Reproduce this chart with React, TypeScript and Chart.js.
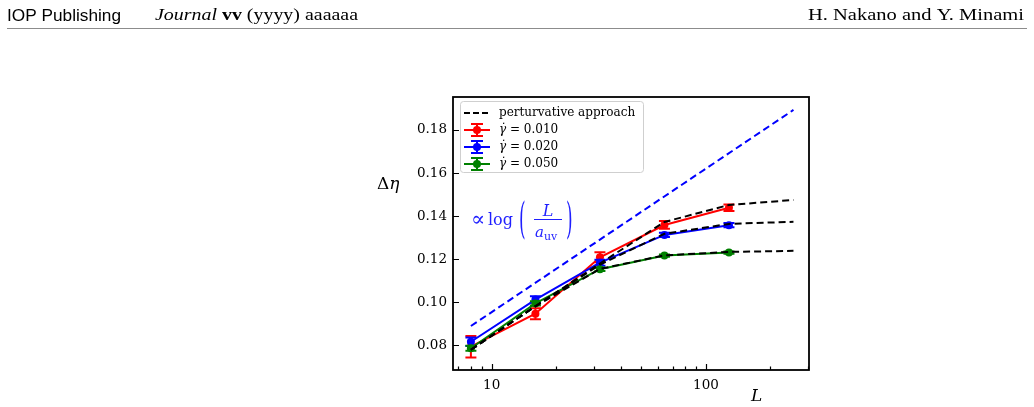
import React, { useEffect, useRef } from 'react';
import { Chart, registerables } from 'chart.js';

Chart.register(...registerables);

// System sizes L and measured Δη for three shear rates
const sizes = [8, 16, 32, 64, 128];
const rate010 = [0.0794, 0.0947, 0.1209, 0.1359, 0.1439];
const err010 = [0.0050, 0.0026, 0.0023, 0.0018, 0.0015];
const rate020 = [0.0817, 0.1013, 0.1184, 0.1313, 0.1358];
const err020 = [0.0020, 0.0015, 0.0014, 0.0010, 0.0010];
const rate050 = [0.0787, 0.0995, 0.1154, 0.1217, 0.1231];
const err050 = [0.0012, 0.0010, 0.0008, 0.0005, 0.0005];

// Perturbative predictions
const pertSizes = [8, 16, 32, 64, 128, 256];
const pert010 = [0.0780, 0.0982, 0.1180, 0.1373, 0.1452, 0.1475];
const pert020 = [0.0780, 0.0982, 0.1175, 0.1318, 0.1364, 0.1374];
const pert050 = [0.0780, 0.0982, 0.1155, 0.1218, 0.1234, 0.1239];

// Logarithmic growth guide
const guideSizes = [8, 256];
const guideValues = [0.0890, 0.1893];

const yTicks = [0.08, 0.10, 0.12, 0.14, 0.16, 0.18];
const xMajorTicks = [10, 100];
const xMinorTicks = [7, 8, 9, 20, 30, 40, 50, 60, 70, 80, 90, 200, 300];
const rateLabels = ['0.010', '0.020', '0.050'];
const rateColors = ['#ff0000', '#0000ff', '#008000'];

const SERIF = '"DejaVu Serif", serif';
const TIMES = '"Liberation Serif", serif';
const GUIDE_BLUE = '#1f1fff';

const pts = (xs: number[], ys: number[]) => xs.map((x, i) => ({ x, y: ys[i] }));

function fitText(ctx: CanvasRenderingContext2D, text: string, x: number, y: number, sx: number) {
  ctx.save();
  ctx.translate(x, y);
  ctx.scale(sx, 1);
  ctx.fillText(text, 0, 0);
  ctx.restore();
  return ctx.measureText(text).width * sx;
}

function stretchedParen(ctx: CanvasRenderingContext2D, ch: string, x: number, top: number, bottom: number) {
  ctx.save();
  ctx.font = `17px ${SERIF}`;
  const m = ctx.measureText(ch);
  const asc = m.actualBoundingBoxAscent;
  const desc = m.actualBoundingBoxDescent;
  const s = (bottom - top) / (asc + desc);
  ctx.translate(x, top + asc * s);
  ctx.scale(1, s);
  ctx.textBaseline = 'alphabetic';
  ctx.fillText(ch, 0, 0);
  ctx.restore();
}

function drawHeader(ctx: CanvasRenderingContext2D) {
  ctx.save();
  ctx.fillStyle = '#000';
  ctx.textBaseline = 'alphabetic';
  ctx.textAlign = 'left';
  ctx.font = `16px "Liberation Sans", sans-serif`;
  const w1 = ctx.measureText('IOP Publishing').width;
  fitText(ctx, 'IOP Publishing', 7, 20.7, 114 / w1);

  const parts: [string, string][] = [
    [`italic 17.5px ${TIMES}`, 'Journal '],
    [`bold 17.5px ${TIMES}`, 'vv'],
    [`17.5px ${TIMES}`, ' (yyyy) aaaaaa'],
  ];
  let total = 0;
  parts.forEach(([f, t]) => { ctx.font = f; total += ctx.measureText(t).width; });
  const sx = 203 / total;
  let x = 155;
  parts.forEach(([f, t]) => { ctx.font = f; x += fitText(ctx, t, x, 19.5, sx); });

  ctx.font = `17.5px ${TIMES}`;
  const name = 'H. Nakano and Y. Minami';
  const wn = ctx.measureText(name).width;
  fitText(ctx, name, 808, 19.5, 216 / wn);

  ctx.strokeStyle = '#8c8c8c';
  ctx.lineWidth = 1;
  ctx.beginPath();
  ctx.moveTo(7, 28.5);
  ctx.lineTo(1027, 28.5);
  ctx.stroke();
  ctx.restore();
}

function drawLegend(ctx: CanvasRenderingContext2D) {
  const x0 = 460.5, y0 = 101.5, w = 183, h = 71;
  ctx.save();
  ctx.beginPath();
  ctx.roundRect(x0, y0, w, h, 3);
  ctx.fillStyle = 'rgba(255,255,255,0.85)';
  ctx.fill();
  ctx.strokeStyle = '#cfcfcf';
  ctx.lineWidth = 1;
  ctx.stroke();

  const rows = [113, 130, 147, 164];
  const hx0 = 464, hx1 = 490, hc = 477;

  ctx.strokeStyle = '#000';
  ctx.lineWidth = 2;
  ctx.setLineDash([6, 3]);
  ctx.beginPath();
  ctx.moveTo(hx0, rows[0]);
  ctx.lineTo(hx1, rows[0]);
  ctx.stroke();
  ctx.setLineDash([]);

  ctx.fillStyle = '#000';
  ctx.textBaseline = 'middle';
  ctx.font = `12px ${SERIF}`;
  ctx.fillText('perturvative approach', 499, rows[0]);

  rateLabels.forEach((lab, i) => {
    const y = rows[i + 1];
    const c = rateColors[i];
    ctx.strokeStyle = c;
    ctx.fillStyle = c;
    ctx.lineWidth = 2;
    ctx.beginPath();
    ctx.moveTo(hx0, y); ctx.lineTo(hx1, y);
    ctx.moveTo(hc, y - 6); ctx.lineTo(hc, y + 6);
    ctx.moveTo(hc - 6, y - 6); ctx.lineTo(hc + 6, y - 6);
    ctx.moveTo(hc - 6, y + 6); ctx.lineTo(hc + 6, y + 6);
    ctx.stroke();
    ctx.beginPath();
    ctx.arc(hc, y, 4, 0, Math.PI * 2);
    ctx.fill();

    ctx.fillStyle = '#000';
    ctx.font = `italic 12px ${SERIF}`;
    ctx.fillText('\u03b3\u0307', 499, y);
    const gw = ctx.measureText('\u03b3\u0307').width;
    ctx.font = `12px ${SERIF}`;
    ctx.fillText(' = ' + lab, 499 + gw, y);
  });
  ctx.restore();
}

function drawGuideFormula(ctx: CanvasRenderingContext2D) {
  ctx.save();
  ctx.fillStyle = GUIDE_BLUE;
  ctx.strokeStyle = GUIDE_BLUE;
  ctx.textBaseline = 'alphabetic';
  ctx.textAlign = 'left';
  ctx.font = `21px ${SERIF}`;
  ctx.fillText('\u221d', 471, 226);
  ctx.font = `16px ${SERIF}`;
  ctx.fillText('log', 488, 225);
  stretchedParen(ctx, '(', 519, 200, 240);
  ctx.font = `italic 16px ${SERIF}`;
  ctx.textAlign = 'center';
  ctx.fillText('L', 548, 215.5);
  ctx.lineWidth = 1;
  ctx.beginPath();
  ctx.moveTo(534, 219.5);
  ctx.lineTo(562, 219.5);
  ctx.stroke();
  ctx.textAlign = 'left';
  ctx.font = `italic 15px ${SERIF}`;
  ctx.fillText('a', 535, 237);
  const aw = ctx.measureText('a').width;
  ctx.font = `11px ${SERIF}`;
  ctx.fillText('uv', 535 + aw, 239.5);
  stretchedParen(ctx, ')', 566, 200, 240);
  ctx.restore();
}

function drawAxisTitles(ctx: CanvasRenderingContext2D) {
  ctx.save();
  ctx.fillStyle = '#000';
  ctx.textBaseline = 'alphabetic';
  ctx.textAlign = 'left';
  ctx.font = `17px ${SERIF}`;
  ctx.fillText('\u0394', 377, 188.5);
  const dw = ctx.measureText('\u0394').width;
  ctx.font = `italic 17px ${SERIF}`;
  ctx.fillText('\u03b7', 377 + dw, 188.5);
  ctx.fillText('L', 751, 401);
  ctx.restore();
}

const decorations = {
  id: 'decorations',
  beforeDatasetDraw(chart: any, args: any) {
    const ds: any = chart.data.datasets[args.index];
    if (!ds.errors) return;
    const { ctx } = chart;
    const xs = chart.scales.x;
    const ys = chart.scales.y;
    ctx.save();
    ctx.strokeStyle = ds.borderColor;
    ctx.lineWidth = 2;
    ctx.setLineDash([]);
    ds.data.forEach((p: any, i: number) => {
      const x = xs.getPixelForValue(p.x);
      const lo = ys.getPixelForValue(p.y - ds.errors[i]);
      const hi = ys.getPixelForValue(p.y + ds.errors[i]);
      ctx.beginPath();
      ctx.moveTo(x, lo); ctx.lineTo(x, hi);
      ctx.moveTo(x - 5.5, lo); ctx.lineTo(x + 5.5, lo);
      ctx.moveTo(x - 5.5, hi); ctx.lineTo(x + 5.5, hi);
      ctx.stroke();
    });
    ctx.restore();
  },
  afterDraw(chart: any) {
    const { ctx, chartArea: a } = chart;
    const xs = chart.scales.x;
    const ys = chart.scales.y;
    ctx.save();
    ctx.strokeStyle = '#000';
    ctx.lineWidth = 1.2;
    ctx.beginPath();
    yTicks.forEach((v) => {
      const y = Math.round(ys.getPixelForValue(v)) + 0.5;
      ctx.moveTo(a.left, y); ctx.lineTo(a.left + 6, y);
    });
    xMajorTicks.forEach((v) => {
      const x = Math.round(xs.getPixelForValue(v)) + 0.5;
      ctx.moveTo(x, a.bottom); ctx.lineTo(x, a.bottom - 6);
    });
    xMinorTicks.forEach((v) => {
      const x = Math.round(xs.getPixelForValue(v)) + 0.5;
      ctx.moveTo(x, a.bottom); ctx.lineTo(x, a.bottom - 3.5);
    });
    ctx.stroke();
    ctx.lineWidth = 1.8;
    ctx.strokeRect(a.left, a.top, a.right - a.left, a.bottom - a.top);
    ctx.restore();

    drawLegend(ctx);
    drawGuideFormula(ctx);
    drawAxisTitles(ctx);
    drawHeader(ctx);
  },
};

const rateDataset = (label: string, values: number[], errors: number[], color: string) => ({
  label,
  data: pts(sizes, values),
  errors,
  borderColor: color,
  backgroundColor: color,
  borderWidth: 2,
  pointRadius: 4,
  pointBorderWidth: 0,
  pointBackgroundColor: color,
  tension: 0,
});

const pertDataset = (values: number[]) => ({
  label: 'perturvative approach',
  data: pts(pertSizes, values),
  borderColor: '#000000',
  borderWidth: 2,
  borderDash: [7, 4],
  pointRadius: 0,
  tension: 0,
});

export default function App() {
  const ref = useRef<HTMLCanvasElement>(null);

  useEffect(() => {
    const canvas = ref.current;
    if (!canvas) return;
    const chart = new Chart(canvas, {
      type: 'line',
      data: {
        datasets: [
          pertDataset(pert010),
          pertDataset(pert020),
          pertDataset(pert050),
          rateDataset('0.050', rate050, err050, rateColors[2]),
          rateDataset('0.020', rate020, err020, rateColors[1]),
          rateDataset('0.010', rate010, err010, rateColors[0]),
          {
            label: 'log guide',
            data: pts(guideSizes, guideValues),
            borderColor: '#0000ff',
            borderWidth: 2,
            borderDash: [7, 4],
            pointRadius: 0,
            tension: 0,
          },
        ] as any,
      },
      options: {
        animation: false,
        responsive: false,
        devicePixelRatio: 1,
        events: [],
        layout: { padding: { left: 393, right: 225, top: 97, bottom: 7 } },
        plugins: { legend: { display: false }, tooltip: { enabled: false } },
        scales: {
          x: {
            type: 'logarithmic',
            min: 6.6,
            max: 302.5,
            afterBuildTicks: (s: any) => { s.ticks = xMajorTicks.map((v) => ({ value: v })); },
            afterFit: (s: any) => { s.height = 30; },
            ticks: {
              autoSkip: false,
              maxRotation: 0,
              padding: 7,
              color: '#000',
              font: { family: 'DejaVu Serif', size: 13.5 },
              callback: (v: any) => String(v),
            },
            grid: { display: false, drawTicks: false },
            border: { display: false },
          },
          y: {
            type: 'linear',
            min: 0.0686,
            max: 0.1953,
            afterBuildTicks: (s: any) => { s.ticks = yTicks.map((v) => ({ value: v })); },
            afterFit: (s: any) => { s.width = 60; },
            ticks: {
              padding: 6,
              color: '#000',
              font: { family: 'DejaVu Serif', size: 13.5 },
              callback: (v: any) => Number(v).toFixed(2),
            },
            grid: { display: false, drawTicks: false },
            border: { display: false },
          },
        },
      } as any,
      plugins: [decorations],
    });
    return () => chart.destroy();
  }, []);

  return (
    <div style={{ position: 'absolute', left: 0, top: 0, width: 1034, height: 407, background: '#fff' }}>
      <canvas ref={ref} width={1034} height={407} style={{ display: 'block', width: 1034, height: 407 }} />
    </div>
  );
}
